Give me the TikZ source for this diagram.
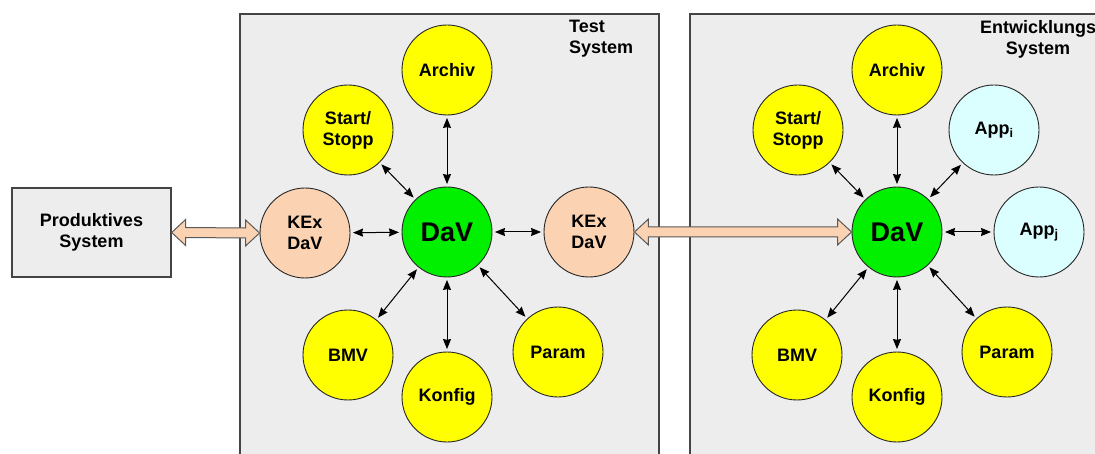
\documentclass[tikz,border=0pt]{standalone}
\usepackage{fontspec}
\setmainfont{Liberation Sans}
\usetikzlibrary{arrows.meta,calc}

\definecolor{panelfill}{HTML}{EDEDED}
\definecolor{boxline}{HTML}{444444}
\definecolor{satyellow}{HTML}{FFFF00}
\definecolor{davgreen}{HTML}{00F000}
\definecolor{kexpeach}{HTML}{FBD3B2}
\definecolor{appcyan}{HTML}{DBFFFF}

\tikzset{
  panel/.style={draw=boxline, line width=1.3pt, fill=panelfill},
  lbl/.style={font=\bfseries\fontsize{18}{21}\selectfont, align=center, inner sep=0pt},
  circ/.style={circle, draw=black!85, line width=0.9pt, minimum size=90pt, inner sep=0pt,
               font=\bfseries\fontsize{18}{21}\selectfont, align=center},
  sat/.style={circ, fill=satyellow},
  kex/.style={circ, fill=kexpeach},
  app/.style={circ, fill=appcyan},
  dav/.style={circ, fill=davgreen, font=\bfseries\fontsize{27}{30}\selectfont},
  link/.style={line width=1pt, {Stealth[inset=0.8pt,length=10pt,width=8pt]}-{Stealth[inset=0.8pt,length=10pt,width=8pt]},
               shorten <=2.5pt, shorten >=2.5pt},
  bigarrow/.style={draw=black!65, line width=1pt, fill=kexpeach, line join=miter},
}

\begin{document}
\begin{tikzpicture}[x=1pt, y=-1pt]
\useasboundingbox (0,0) rectangle (1095,454);
\clip (0,0) rectangle (1095,454);

% system panels (open at the bottom and right edge)
\draw[panel] (240,14) rectangle (659,470);
\draw[panel] (690,14) rectangle (1120,470);
\node[lbl, align=left, anchor=north west] (testlbl) at (569,20) {Test\\System};
\node[lbl, anchor=north] (entlbl) at (1038,20) {Entwicklungs\\System};

% production system
\node[draw=boxline, line width=1.3pt, fill=panelfill, minimum width=159pt, minimum height=89pt,
      lbl] (prod) at (91.5,232.5) {Produktives\\System};

% test system cluster
\node[dav] (dav1) at (447,232) {DaV};
\node[sat] (arch1) at (447,70) {Archiv};
\node[sat] (start1) at (348,130) {Start/\\Stopp};
\node[kex] (kexl) at (305,233) {KEx\\DaV};
\node[kex] (kexr) at (589,232) {KEx\\DaV};
\node[sat] (bmv1) at (348,355) {BMV};
\node[sat] (konf1) at (447,397) {Konfig};
\node[sat] (param1) at (558,352) {Param};

\foreach \n in {arch1,start1,kexl,kexr,bmv1,konf1,param1}
  \draw[link] (dav1) -- (\n);

% development system cluster
\node[dav] (dav2) at (897,232) {DaV};
\node[sat] (arch2) at (897,70) {Archiv};
\node[sat] (start2) at (798,130) {Start/\\Stopp};
\node[app] (appi) at (994,130) {App\textsubscript{i}};
\node[app] (appj) at (1039,232) {App\textsubscript{j}};
\node[sat] (bmv2) at (797,355) {BMV};
\node[sat] (konf2) at (897,397) {Konfig};
\node[sat] (param2) at (1007,352) {Param};

\foreach \n in {arch2,start2,appi,appj,bmv2,konf2,param2}
  \draw[link] (dav2) -- (\n);

% wide two-headed exchange arrows
\draw[bigarrow] (prod.east) -- ++(14,-13) -- ++(0,8) -- ($(kexl.west)+(-14,-5)$) -- ++(0,-8)
  -- (kexl.west) -- ++(-14,13) -- ++(0,-8) -- ($(prod.east)+(14,5)$) -- ++(0,8) -- cycle;
\draw[bigarrow] (kexr.east) -- ++(14,-13) -- ++(0,8) -- ($(dav2.west)+(-14,-5)$) -- ++(0,-8)
  -- (dav2.west) -- ++(-14,13) -- ++(0,-8) -- ($(kexr.east)+(14,5)$) -- ++(0,8) -- cycle;
\end{tikzpicture}
\end{document}
